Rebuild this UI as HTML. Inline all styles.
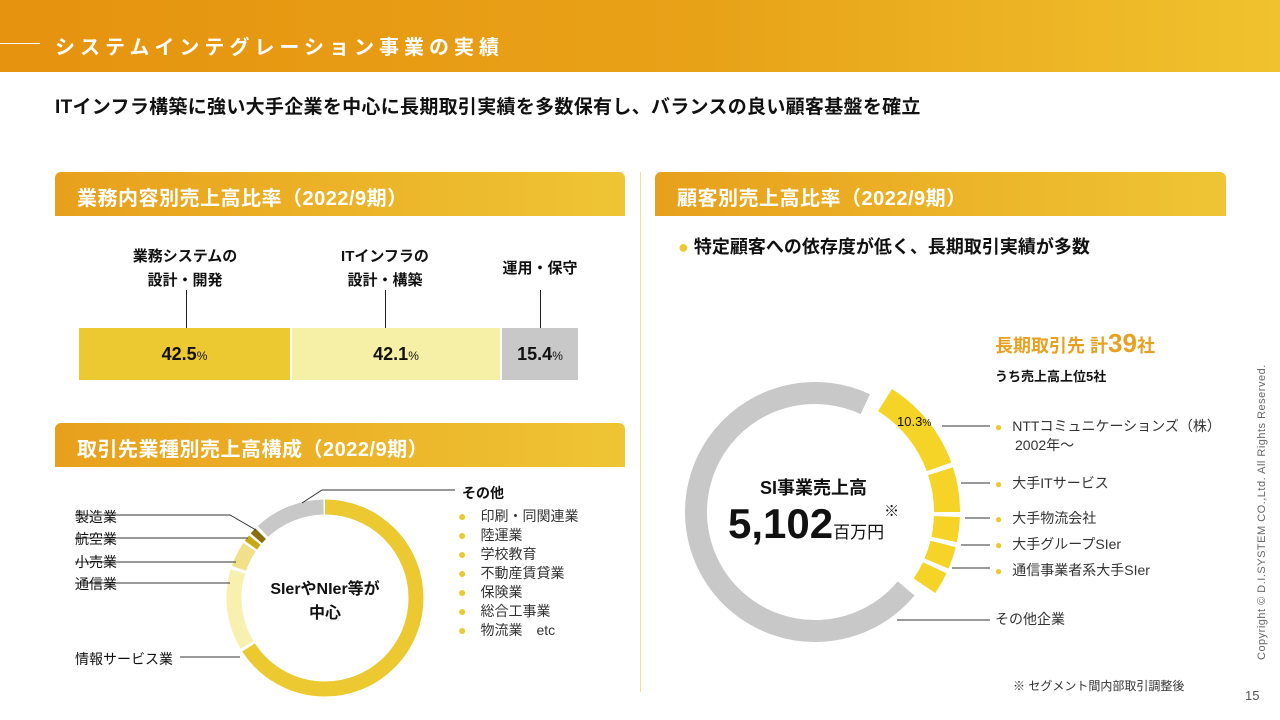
<!DOCTYPE html>
<html><head><meta charset="utf-8"><style>
*{margin:0;padding:0;box-sizing:border-box}
body{width:1280px;height:720px;position:relative;background:#fff;font-family:"Liberation Sans","Noto Sans CJK JP",sans-serif;color:#111;overflow:hidden}
.a{position:absolute;white-space:nowrap}
.hdr{left:0;top:0;width:1280px;height:72px;background:linear-gradient(90deg,#e6930f 0%,#e8a218 55%,#f0c22e 100%)}
.sec{height:44px;border-radius:6px 6px 0 0;background:linear-gradient(90deg,#e8a01c,#efc534);color:#fff;font-size:20px;font-weight:bold;padding:10px 0 0 22px;letter-spacing:0.5px}
.b{font-weight:bold}
.dot{color:#ecc930;margin-right:14px}
.li{font-size:14px;color:#333;line-height:19px}
.d2{color:#ecc930;font-size:12px;margin-right:10px}
</style></head><body>
<div class="a hdr"></div>
<div class="a" style="left:0;top:43px;width:40px;height:1px;background:#fff"></div>
<div class="a b" style="left:55px;top:31px;font-size:20px;color:#fff;letter-spacing:5px">システムインテグレーション事業の実績</div>
<div class="a b" style="left:55px;top:92px;font-size:19px;letter-spacing:0.3px">ITインフラ構築に強い大手企業を中心に長期取引実績を多数保有し、バランスの良い顧客基盤を確立</div>

<div class="a sec" style="left:55px;top:172px;width:570px">業務内容別売上高比率（2022/9期）</div>
<div class="a sec" style="left:655px;top:172px;width:571px">顧客別売上高比率（2022/9期）</div>
<div class="a sec" style="left:55px;top:423px;width:570px">取引先業種別売上高構成（2022/9期）</div>
<div class="a" style="left:640px;top:172px;width:1px;height:520px;background:#f3e08a"></div>

<div class="a b" style="left:110px;top:245px;width:150px;text-align:center;font-size:15px;line-height:24px">業務システムの<br>設計・開発</div>
<div class="a b" style="left:310px;top:245px;width:150px;text-align:center;font-size:15px;line-height:24px">ITインフラの<br>設計・構築</div>
<div class="a b" style="left:480px;top:257px;width:120px;text-align:center;font-size:15px">運用・保守</div>
<div class="a" style="left:186px;top:290px;width:1px;height:38px;background:#222"></div>
<div class="a" style="left:385px;top:290px;width:1px;height:38px;background:#222"></div>
<div class="a" style="left:540px;top:290px;width:1px;height:38px;background:#222"></div>
<div class="a" style="left:79px;top:328px;width:211px;height:52px;background:#ecc930"></div>
<div class="a" style="left:292px;top:328px;width:208px;height:52px;background:#f6f0a6"></div>
<div class="a" style="left:502px;top:328px;width:76px;height:52px;background:#c8c8c8"></div>
<div class="a b" style="left:79px;top:344px;width:211px;text-align:center;font-size:18px">42.5<span style="font-size:12px;font-weight:normal">%</span></div>
<div class="a b" style="left:292px;top:344px;width:208px;text-align:center;font-size:18px">42.1<span style="font-size:12px;font-weight:normal">%</span></div>
<div class="a b" style="left:502px;top:344px;width:76px;text-align:center;font-size:18px">15.4<span style="font-size:12px;font-weight:normal">%</span></div>

<svg class="a" style="left:0;top:0" width="1280" height="720">
<g fill="none" stroke-width="15">
<circle cx="325" cy="598" r="91" stroke="#ecc930" stroke-dasharray="376.4 600" transform="rotate(-90 325 598)"/>
<circle cx="325" cy="598" r="91" stroke="#f7f0ae" stroke-dasharray="76.2 600" transform="rotate(149 325 598)"/>
<circle cx="325" cy="598" r="91" stroke="#f2df8a" stroke-dasharray="23.8 600" transform="rotate(199 325 598)"/>
<circle cx="325" cy="598" r="91" stroke="#c9a818" stroke-dasharray="6.4 600" transform="rotate(215.5 325 598)"/>
<circle cx="325" cy="598" r="91" stroke="#8a6e10" stroke-dasharray="6.4 600" transform="rotate(221 325 598)"/>
<circle cx="325" cy="598" r="91" stroke="#c8c8c8" stroke-dasharray="66.7 600" transform="rotate(227 325 598)"/>
</g>
<g fill="none" stroke-width="22">
<circle cx="815" cy="512" r="119" stroke="#c8c8c8" stroke-dasharray="529.4 800" transform="rotate(40 815 512)"/>
</g>
<g fill="none" stroke-width="26" stroke="#f5d327">
<circle cx="815" cy="512" r="132" stroke-dasharray="87.5 900" transform="rotate(-58 815 512)"/>
<circle cx="815" cy="512" r="132" stroke-dasharray="41.5 900" transform="rotate(-18 815 512)"/>
<circle cx="815" cy="512" r="132" stroke-dasharray="23 900" transform="rotate(2 815 512)"/>
<circle cx="815" cy="512" r="132" stroke-dasharray="20.7 900" transform="rotate(14 815 512)"/>
<circle cx="815" cy="512" r="132" stroke-dasharray="20.7 900" transform="rotate(25 815 512)"/>
</g>
<g stroke="#333" stroke-width="1" fill="none">
<polyline points="302,503 322,490 455,490"/>
<polyline points="75,515 230,515 256,530"/>
<line x1="75" y1="538" x2="248" y2="538"/>
<line x1="75" y1="562" x2="236" y2="562"/>
<line x1="75" y1="583" x2="230" y2="583"/>
<line x1="180" y1="657" x2="240" y2="657"/>
<line x1="942" y1="426" x2="990" y2="426"/>
<line x1="961" y1="483" x2="990" y2="483"/>
<line x1="965" y1="518" x2="990" y2="518"/>
<line x1="961" y1="545" x2="990" y2="545"/>
<line x1="952" y1="568" x2="990" y2="568"/>
<line x1="897" y1="620" x2="990" y2="620"/>
</g>
</svg>

<div class="a b" style="left:260px;top:578px;width:130px;text-align:center;font-size:16px;line-height:24px">SIerやNIer等が<br>中心</div>
<div class="a" style="left:75px;top:507px;font-size:14px">製造業</div>
<div class="a" style="left:75px;top:529px;font-size:14px">航空業</div>
<div class="a" style="left:75px;top:552px;font-size:14px">小売業</div>
<div class="a" style="left:75px;top:574px;font-size:14px">通信業</div>
<div class="a" style="left:75px;top:649px;font-size:14px">情報サービス業</div>
<div class="a b" style="left:462px;top:483px;font-size:14px">その他</div>
<div class="a li" style="left:458px;top:507px"><span class="dot">●</span>印刷・同関連業<br><span class="dot">●</span>陸運業<br><span class="dot">●</span>学校教育<br><span class="dot">●</span>不動産賃貸業<br><span class="dot">●</span>保険業<br><span class="dot">●</span>総合工事業<br><span class="dot">●</span>物流業　etc</div>

<div class="a b" style="left:678px;top:233px;font-size:18px"><span style="color:#ecc930">●</span> 特定顧客への依存度が低く、長期取引実績が多数</div>
<div class="a b" style="left:995px;top:328px;font-size:18px;color:#e8a020">長期取引先 計<span style="font-size:26px">39</span>社</div>
<div class="a b" style="left:995px;top:366px;font-size:13px">うち売上高上位5社</div>
<div class="a" style="left:897px;top:414px;font-size:13px">10.3<span style="font-size:10px">%</span></div>
<div class="a li" style="left:995px;top:417px;font-size:14px"><span class="d2">●</span>NTTコミュニケーションズ（株）</div>
<div class="a li" style="left:1015px;top:436px;font-size:14px">2002年～</div>
<div class="a li" style="left:995px;top:474px;font-size:14px"><span class="d2">●</span>大手ITサービス</div>
<div class="a li" style="left:995px;top:509px;font-size:14px"><span class="d2">●</span>大手物流会社</div>
<div class="a li" style="left:995px;top:535px;font-size:14px"><span class="d2">●</span>大手グループSIer</div>
<div class="a li" style="left:995px;top:561px;font-size:14px"><span class="d2">●</span>通信事業者系大手SIer</div>
<div class="a li" style="left:995px;top:610px;font-size:14px">その他企業</div>
<div class="a b" style="left:760px;top:474px;font-size:18px">SI事業売上高</div>
<div class="a b" style="left:728px;top:500px;font-size:42px">5,102<span style="font-size:17px;font-weight:normal">百万円</span><span style="font-size:15px;font-weight:normal;vertical-align:top">※</span></div>
<div class="a" style="left:1013px;top:677px;font-size:12px;color:#333">※ セグメント間内部取引調整後</div>
<div class="a" style="left:1245px;top:688px;font-size:13px;color:#555">15</div>
<div class="a" style="left:1256px;top:660px;font-size:11px;color:#666;letter-spacing:0.5px;transform:rotate(-90deg);transform-origin:0 0">Copyright © D.I.SYSTEM CO.,Ltd. All Rights Reserved.</div>
</body></html>
